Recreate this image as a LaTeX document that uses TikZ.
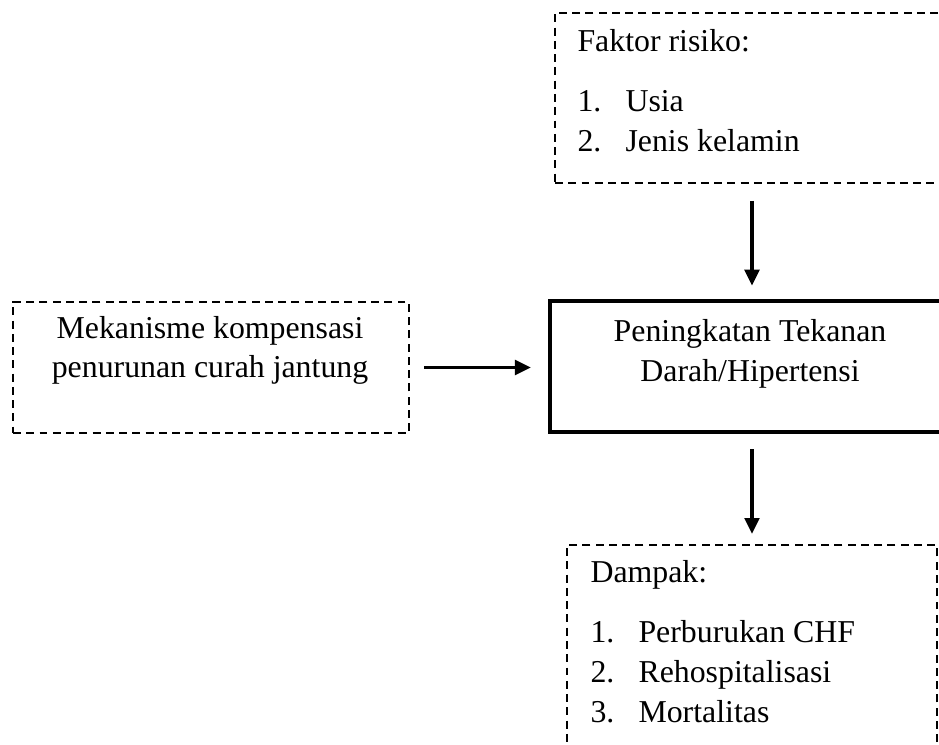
\documentclass[tikz,border=0pt]{standalone}
\usepackage{fontspec}
\setmainfont{Liberation Serif}
\usetikzlibrary{arrows.meta,fit}
\tikzset{
  dashbox/.style={draw,line width=0.75pt,dash pattern=on 3pt off 2pt,inner sep=0pt},
  mainbox/.style={draw,line width=1.6pt,inner sep=0pt},
  arr/.style={line width=1.3pt,-{Triangle[length=6pt,width=5.5pt]}},
  txt/.style={inner sep=0pt,font=\fontsize{12}{15}\selectfont},
}
\begin{document}
\begin{tikzpicture}[x=0.377pt,y=-0.377pt]
    \useasboundingbox (0,0) rectangle (939,745);
    \clip (0,0) rectangle (939,745);
    % boxes
    \node[dashbox,fit={(555,13) (960,183)}] (faktor) {};
    \node[mainbox,fit={(550,301) (960,432)}] (tekanan) {};
    \node[dashbox,fit={(13,302) (409,433)}] (mekanisme) {};
    \node[dashbox,fit={(567,545) (937,770)}] (dampak) {};
    \coordinate (axis) at (752,0);
    % texts
    \node[txt,anchor=base west] (faktorhead) at (577,52) {Faktor risiko:};
    \foreach \i/\y/\t in {1/112/Usia,2/152/Jenis kelamin} {
      \node[txt,anchor=base west] (fnum\i) at (577,\y) {\i.};
      \node[txt,anchor=base west] (fitem\i) at (625,\y) {\t};
    }
    \node[txt,anchor=base] (tekanan1) at (750,342) {Peningkatan Tekanan};
    \node[txt,anchor=base] (tekanan2) at (750,382) {Darah/Hipertensi};
    \node[txt,anchor=base] (mekanisme1) at (210,339) {Mekanisme kompensasi};
    \node[txt,anchor=base] (mekanisme2) at (210,378) {penurunan curah jantung};
    \node[txt,anchor=base west] (dampakhead) at (590,583) {Dampak:};
    \foreach \i/\y/\t in {1/643/Perburukan CHF,2/683/Rehospitalisasi,3/723/Mortalitas} {
      \node[txt,anchor=base west] (dnum\i) at (590,\y) {\i.};
      \node[txt,anchor=base west] (ditem\i) at (638,\y) {\t};
    }
    % arrows
    \draw[arr,shorten <=6.4pt,shorten >=5pt] (faktor.south -| axis) -- (tekanan.north -| axis);
    \draw[arr,shorten <=5.7pt,shorten >=3.8pt] (tekanan.south -| axis) -- (dampak.north -| axis);
    \draw[arr,shorten <=5.3pt,shorten >=6.4pt] (mekanisme.east) -- (mekanisme.east -| tekanan.west);
\end{tikzpicture}
\end{document}
